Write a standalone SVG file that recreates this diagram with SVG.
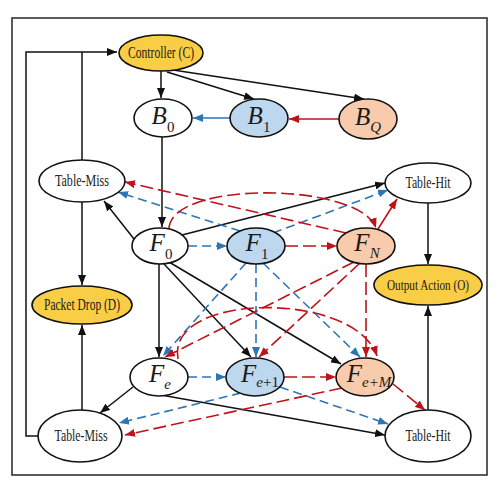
<svg xmlns="http://www.w3.org/2000/svg" width="500" height="500" viewBox="0 0 500 500">
<style>
.n{stroke:#111;stroke-width:1.6}
.w{fill:#fff}.y{fill:#f9cd45}.b{fill:#bdd7ee}.p{fill:#f8cbad}
.t{font-family:"Liberation Serif","Times New Roman",serif;font-size:16px;fill:#1a1a1a;text-anchor:middle}
.m{font-family:"Liberation Serif","Times New Roman",serif;font-size:25px;font-style:italic;fill:#1a1a1a;text-anchor:middle}
.s{font-size:15px;font-style:normal}
.si{font-size:15px;font-style:italic}
.k{stroke:#111;stroke-width:1.5;fill:none}
.kb{stroke:#2e75b6;stroke-width:1.6;fill:none}
.kr{stroke:#c0121b;stroke-width:1.6;fill:none}
.db{stroke-dasharray:9 5}
.dr{stroke-dasharray:13 5}
</style>
<defs>
<marker id="ak" viewBox="0 0 10 8" refX="10" refY="4" markerWidth="10" markerHeight="8" markerUnits="userSpaceOnUse" orient="auto"><path d="M0,0L10,4L0,8z" fill="#111"/></marker>
<marker id="ab" viewBox="0 0 10 8" refX="10" refY="4" markerWidth="10" markerHeight="8" markerUnits="userSpaceOnUse" orient="auto"><path d="M0,0L10,4L0,8z" fill="#2e75b6"/></marker>
<marker id="ar" viewBox="0 0 10 8" refX="10" refY="4" markerWidth="10" markerHeight="8" markerUnits="userSpaceOnUse" orient="auto"><path d="M0,0L10,4L0,8z" fill="#c0121b"/></marker>
</defs>
<rect x="12" y="18" width="475" height="457" fill="#fff" stroke="#333" stroke-width="1.6"/>
<g id="connectors">
<path class="k" d="M38,436H26V52H117" marker-end="url(#ak)"/>
<path class="k" d="M82,160V52"/>
<path class="k" d="M82,202V285" marker-end="url(#ak)"/>
<path class="k" d="M82,410V325" marker-end="url(#ak)"/>
<path class="k" d="M161,71V98" marker-end="url(#ak)"/>
<path class="k" d="M167,72L254,99" marker-end="url(#ak)"/>
<path class="k" d="M173,70L364,99" marker-end="url(#ak)"/>
<path class="k" d="M162,137V227" marker-end="url(#ak)"/>
<path class="k" d="M134,239L104,201" marker-end="url(#ak)"/>
<path class="k" d="M182,235L385,183" marker-end="url(#ak)"/>
<path class="k" d="M159,264V357" marker-end="url(#ak)"/>
<path class="k" d="M164,264L251,357" marker-end="url(#ak)"/>
<path class="k" d="M169,262L341,364" marker-end="url(#ak)"/>
<path class="k" d="M133,387L100,413" marker-end="url(#ak)"/>
<path class="k" d="M161,395L385,435" marker-end="url(#ak)"/>
<path class="k" d="M428,203V264" marker-end="url(#ak)"/>
<path class="k" d="M428,410V306" marker-end="url(#ak)"/>
<path class="kb" d="M230,118H193" marker-end="url(#ab)"/>
<path class="kr" d="M339,119H289" marker-end="url(#ar)"/>
<path class="kr" d="M378,229L397,199" marker-end="url(#ar)"/>
<path class="kb db" d="M188,246H227" marker-end="url(#ab)"/>
<path class="kb db" d="M240,231L118,192" marker-end="url(#ab)"/>
<path class="kb db" d="M273,233L388,190" marker-end="url(#ab)"/>
<path class="kb db" d="M246,263L163,356" marker-end="url(#ab)"/>
<path class="kb db" d="M256,264V357" marker-end="url(#ab)"/>
<path class="kb db" d="M263,263L360,357" marker-end="url(#ab)"/>
<path class="kb db" d="M188,377H226" marker-end="url(#ab)"/>
<path class="kb db" d="M241,393L119,423" marker-end="url(#ab)"/>
<path class="kb db" d="M280,387L388,424" marker-end="url(#ab)"/>
<path class="kr dr" d="M285,246H337" marker-end="url(#ar)"/>
<path class="kr dr" d="M284,377H336" marker-end="url(#ar)"/>
<path class="kr dr" d="M346,233L125,182" marker-end="url(#ar)"/>
<path class="kr dr" d="M169,229C170,180 360,182 376,228" marker-end="url(#ar)"/>
<path class="kr dr" d="M354,262L165,357" marker-end="url(#ar)"/>
<path class="kr dr" d="M360,263L259,357" marker-end="url(#ar)"/>
<path class="kr dr" d="M366,264V357" marker-end="url(#ar)"/>
<path class="kr dr" d="M178,359C165,292 355,290 377,356" marker-end="url(#ar)"/>
<path class="kr dr" d="M342,388L125,435" marker-end="url(#ar)"/>
<path class="kr dr" d="M393,384L425,410" marker-end="url(#ar)"/>
</g>
<g id="controller"><ellipse class="n y" cx="161" cy="53" rx="42" ry="18"/><text class="t" x="161" y="58" textLength="66" lengthAdjust="spacingAndGlyphs">Controller (C)</text></g>
<g id="B0"><ellipse class="n w" cx="163" cy="118" rx="29" ry="19"/><text class="m" x="163" y="124">B<tspan class="s" dy="8">0</tspan></text></g>
<g id="B1"><ellipse class="n b" cx="259" cy="118" rx="29" ry="19"/><text class="m" x="259" y="124">B<tspan class="s" dy="8">1</tspan></text></g>
<g id="BQ"><ellipse class="n p" cx="368" cy="119" rx="29" ry="20"/><text class="m" x="368" y="125">B<tspan class="si" dy="7">Q</tspan></text></g>
<g id="tablemiss1"><ellipse class="n w" cx="82" cy="181" rx="43" ry="21"/><text class="t" x="82" y="186" textLength="54" lengthAdjust="spacingAndGlyphs">Table-Miss</text></g>
<g id="tablehit1"><ellipse class="n w" cx="428" cy="183" rx="43" ry="20"/><text class="t" x="428" y="188" textLength="45" lengthAdjust="spacingAndGlyphs">Table-Hit</text></g>
<g id="F0"><ellipse class="n w" cx="160" cy="246" rx="28" ry="18"/><text class="m" x="161" y="251">F<tspan class="s" dy="8">0</tspan></text></g>
<g id="F1"><ellipse class="n b" cx="256" cy="246" rx="29" ry="18"/><text class="m" x="257" y="251">F<tspan class="s" dy="8">1</tspan></text></g>
<g id="FN"><ellipse class="n p" cx="366" cy="246" rx="29" ry="18"/><text class="m" x="367" y="251">F<tspan class="si" dy="7">N</tspan></text></g>
<g id="packetdrop"><ellipse class="n y" cx="82" cy="305" rx="50" ry="19"/><text class="t" x="82" y="310" textLength="76" lengthAdjust="spacingAndGlyphs">Packet Drop (D)</text></g>
<g id="outputaction"><ellipse class="n y" cx="428" cy="285" rx="54" ry="20"/><text class="t" x="428" y="290" style="font-size:14px" textLength="82" lengthAdjust="spacingAndGlyphs">Output Action (O)</text></g>
<g id="Fe"><ellipse class="n w" cx="159" cy="377" rx="29" ry="19"/><text class="m" x="160" y="382">F<tspan class="si" dy="7">e</tspan></text></g>
<g id="Fe1"><ellipse class="n b" cx="255" cy="377" rx="29" ry="19"/><text class="m" x="260" y="382">F<tspan class="si" dy="5">e</tspan><tspan class="s">+1</tspan></text></g>
<g id="FeM"><ellipse class="n p" cx="365" cy="377" rx="29" ry="19"/><text class="m" x="369" y="382">F<tspan class="si" dy="5">e+M</tspan></text></g>
<g id="tablemiss2"><ellipse class="n w" cx="80" cy="436" rx="42" ry="26"/><text class="t" x="81" y="441" textLength="53" lengthAdjust="spacingAndGlyphs">Table-Miss</text></g>
<g id="tablehit2"><ellipse class="n w" cx="428" cy="436" rx="43" ry="26"/><text class="t" x="428" y="441" textLength="45" lengthAdjust="spacingAndGlyphs">Table-Hit</text></g>
</svg>
